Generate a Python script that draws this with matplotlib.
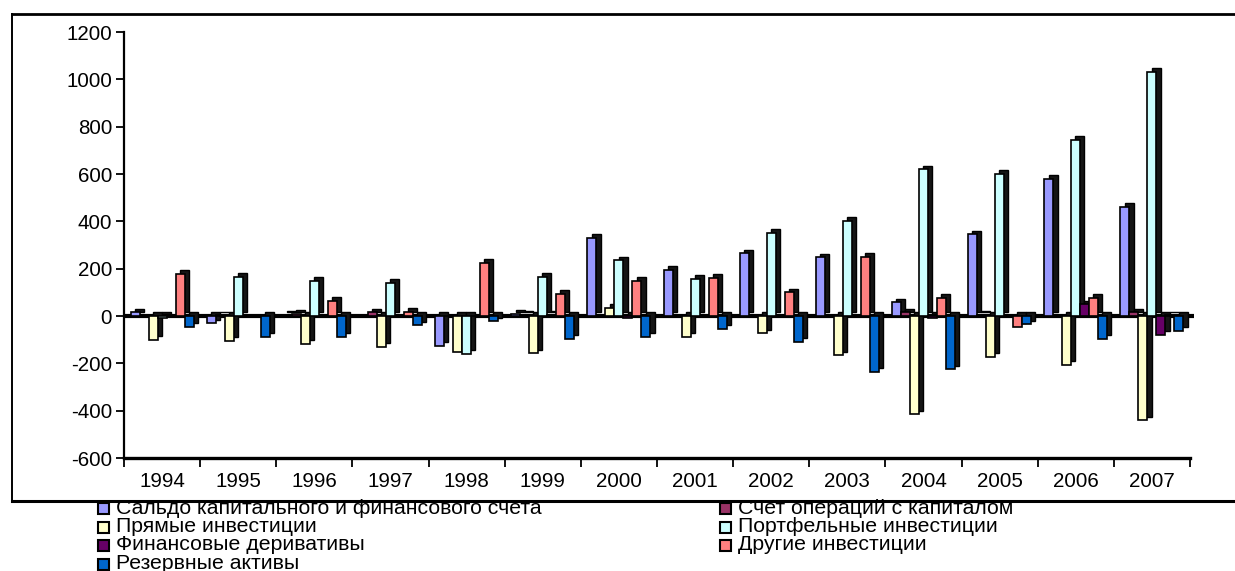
import matplotlib
matplotlib.use('Agg')
import matplotlib.pyplot as plt
from matplotlib.patches import Rectangle
from matplotlib.lines import Line2D
import numpy as np

plt.rcParams['font.family'] = ['Liberation Sans', 'DejaVu Sans']
plt.rcParams['axes.unicode_minus'] = False

years = [str(y) for y in range(1994, 2008)]

series_names = [
    'Сальдо капитального и финансового счета',
    'Счет операций с капиталом',
    'Прямые инвестиции',
    'Портфельные инвестиции',
    'Финансовые деривативы',
    'Другие инвестиции',
    'Резервные активы',
]
colors = ['#9999FF', '#993366', '#FFFFCC', '#CCFFFF', '#660066', '#FF8080', '#0066CC']

saldo = [15, -30, 5, 0, -125, 10, 330, 195, 265, 248, 58, 345, 580, 462]
schet = [0, 3, 10, 15, 0, 5, 0, 0, 0, 0, 15, 5, 0, 15]
pryamye = [-100, -105, -117, -130, -150, -158, 35, -88, -73, -165, -415, -172, -205, -440]
portfel = [-8, 165, 148, 140, -160, 165, 235, 158, 352, 403, 620, 600, 745, 1033]
finans = [0, 0, 0, 0, 0, 5, -10, 0, 0, 0, -8, 0, 50, -80]
drugie = [178, 0, 65, 18, 225, 93, 150, 162, 100, 250, 78, -45, 77, 3]
rezerv = [-46, -87, -88, -40, -22, -97, -88, -55, -110, -236, -226, -35, -97, -62]

data = [saldo, schet, pryamye, portfel, finans, drugie, rezerv]

W, H = 1235, 571
fig = plt.figure(figsize=(W / 100, H / 100), dpi=100)
ax = fig.add_axes([124 / W, 1 - 458 / H, (1190 - 124) / W, (458 - 32) / H])

x = np.arange(len(years))
n = len(data)
w = 0.118
dx, dy = 0.055, 15   # fake 3D depth

for i, vals in enumerate(data):
    vals = np.array(vals, dtype=float)
    pos = x + (i - (n - 1) / 2) * w
    nz = vals != 0
    ax.bar(pos[nz] + dx, vals[nz], width=w, bottom=dy, color='#151515',
           edgecolor='black', linewidth=1.0, zorder=3 + 2 * i)
    ax.bar(pos, vals, width=w, color=colors[i], edgecolor='black',
           linewidth=1.2, zorder=4 + 2 * i)

ax.plot([-0.5, len(years) - 0.5 + dx], [0, 0], color='black', lw=3,
        zorder=2, clip_on=False, solid_capstyle='butt')

ax.set_xlim(-0.5, len(years) - 0.5)
ax.set_ylim(-600, 1200)
ax.set_yticks(np.arange(-600, 1201, 200))
ax.set_xticks(np.arange(-0.5, len(years), 1.0))
ax.set_xticklabels([])
ax.set_xticks(x, minor=True)
ax.set_xticklabels(years, minor=True)
ax.tick_params(axis='x', which='major', direction='out', length=6.5, width=1.3)
ax.tick_params(axis='x', which='minor', length=0, pad=10, labelsize=14.8)
ax.tick_params(axis='y', direction='out', length=6, width=1.3, pad=2.5, labelsize=14.8)
for s in ['top', 'right']:
    ax.spines[s].set_visible(False)
ax.spines['left'].set_linewidth(1.6)
ax.spines['bottom'].set_linewidth(2.4)

# chart area frame
fig.add_artist(Line2D([11.5 / W, 1.0], [1 - 14 / H] * 2, color='black', lw=2))
fig.add_artist(Line2D([11.5 / W, 1.0], [1 - 501 / H] * 2, color='black', lw=2.2))
fig.add_artist(Line2D([11.5 / W] * 2, [1 - 14 / H, 1 - 501 / H], color='black', lw=1.4))

# legend, two columns
col_x = [98, 720]
rows = [508, 526.5, 545, 563.5]
slots = [(0, 0), (1, 0), (0, 1), (1, 1), (0, 2), (1, 2), (0, 3)]
for (c, r), name, col in zip(slots, series_names, colors):
    cx, cy = col_x[c], rows[r]
    fig.add_artist(Rectangle((cx / W, 1 - (cy + 6) / H), 11 / W, 11 / H,
                             facecolor=col, edgecolor='black', lw=1.5,
                             transform=fig.transFigure))
    fig.text((cx + 18) / W, 1 - cy / H, name, fontsize=15.3, va='center',
             ha='left')

fig.savefig('out.png', dpi=100)
